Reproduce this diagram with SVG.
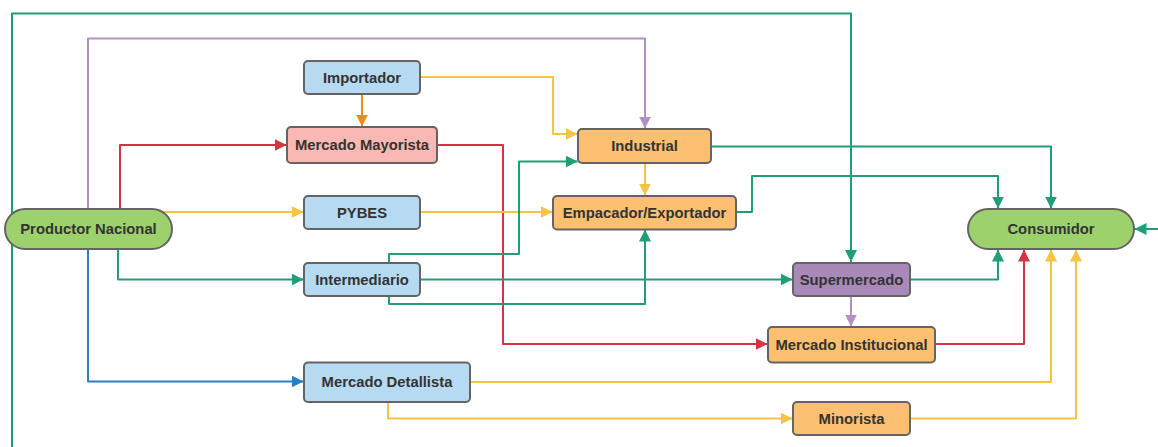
<svg xmlns="http://www.w3.org/2000/svg" width="1158" height="447" viewBox="0 0 1158 447">
  <defs>
    <style>
      .ln { fill: none; stroke-width: 2; stroke-linejoin: round; }
      .teal { stroke: #1f9e78; }
      .yel { stroke: #f6c443; }
      .red { stroke: #d23441; }
      .pur { stroke: #b391c4; }
      .org { stroke: #ee8a1f; }
      .blu { stroke: #2a7fc0; }
      .box { stroke: #646464; stroke-width: 2; }
      .blue-f { fill: #b7daf3; }
      .pink-f { fill: #f9b8b1; }
      .orng-f { fill: #fdbf70; }
      .purp-f { fill: #a889b8; }
      .grn-f { fill: #9dd16c; }
      .lbl { font-family: "Liberation Sans", Arial, sans-serif; font-weight: bold; font-size: 14.8px; fill: #333333; text-anchor: middle; dominant-baseline: central; }
    </style>
    <marker id="aTeal" viewBox="0 0 10 10" refX="10" refY="5" markerWidth="12" markerHeight="12" markerUnits="userSpaceOnUse" orient="auto"><path d="M0,0 L10,5 L0,10 z" fill="#1f9e78"/></marker>
    <marker id="aYel" viewBox="0 0 10 10" refX="10" refY="5" markerWidth="12" markerHeight="12" markerUnits="userSpaceOnUse" orient="auto"><path d="M0,0 L10,5 L0,10 z" fill="#f6c443"/></marker>
    <marker id="aRed" viewBox="0 0 10 10" refX="10" refY="5" markerWidth="12" markerHeight="12" markerUnits="userSpaceOnUse" orient="auto"><path d="M0,0 L10,5 L0,10 z" fill="#d23441"/></marker>
    <marker id="aPur" viewBox="0 0 10 10" refX="10" refY="5" markerWidth="12" markerHeight="12" markerUnits="userSpaceOnUse" orient="auto"><path d="M0,0 L10,5 L0,10 z" fill="#b391c4"/></marker>
    <marker id="aOrg" viewBox="0 0 10 10" refX="10" refY="5" markerWidth="12" markerHeight="12" markerUnits="userSpaceOnUse" orient="auto"><path d="M0,0 L10,5 L0,10 z" fill="#ee8a1f"/></marker>
    <marker id="aBlu" viewBox="0 0 10 10" refX="10" refY="5" markerWidth="12" markerHeight="12" markerUnits="userSpaceOnUse" orient="auto"><path d="M0,0 L10,5 L0,10 z" fill="#2a7fc0"/></marker>
  </defs>

  <rect width="1158" height="447" fill="#ffffff"/>

  <g id="connectors">
    <path class="ln teal" d="M12,447 V13.5 H851 V262" marker-end="url(#aTeal)"/>
    <path class="ln pur" d="M88,209 V38.5 H645 V128.5" marker-end="url(#aPur)"/>
    <path class="ln red" d="M120,210 V145 H286.5" marker-end="url(#aRed)"/>
    <path class="ln yel" d="M140,212 H303.5" marker-end="url(#aYel)"/>
    <path class="ln teal" d="M118,248 V279.5 H303.5" marker-end="url(#aTeal)"/>
    <path class="ln blu" d="M88,248 V381.5 H303.5" marker-end="url(#aBlu)"/>
    <path class="ln org" d="M362,94 V126.5" marker-end="url(#aOrg)"/>
    <path class="ln yel" d="M420,77 H553 V134 H577.5" marker-end="url(#aYel)"/>
    <path class="ln red" d="M437,145 H503 V344 H767.5" marker-end="url(#aRed)"/>
    <path class="ln yel" d="M420,212 H552.5" marker-end="url(#aYel)"/>
    <path class="ln teal" d="M389,263 V254 H519 V161.5 H577.5" marker-end="url(#aTeal)"/>
    <path class="ln teal" d="M420,279.5 H792.5" marker-end="url(#aTeal)"/>
    <path class="ln teal" d="M389,296 V304 H645 V229.5" marker-end="url(#aTeal)"/>
    <path class="ln yel" d="M645,163 V195.5" marker-end="url(#aYel)"/>
    <path class="ln teal" d="M711,146.5 H1051 V208.5" marker-end="url(#aTeal)"/>
    <path class="ln teal" d="M736,212 H752 V176 H998 V208.5" marker-end="url(#aTeal)"/>
    <path class="ln teal" d="M910,279.5 H998 V249.5" marker-end="url(#aTeal)"/>
    <path class="ln pur" d="M851,296 V326.5" marker-end="url(#aPur)"/>
    <path class="ln red" d="M935,344 H1024 V249.5" marker-end="url(#aRed)"/>
    <path class="ln yel" d="M470,382 H1051 V249.5" marker-end="url(#aYel)"/>
    <path class="ln yel" d="M388,402 V418.5 H792.5" marker-end="url(#aYel)"/>
    <path class="ln yel" d="M910,418.5 H1076 V249.5" marker-end="url(#aYel)"/>
    <path class="ln teal" d="M1158,229 H1134.5" marker-end="url(#aTeal)"/>
  </g>

  <g id="productor-nacional">
    <rect class="box grn-f" x="5" y="209" width="167" height="40" rx="20"/>
    <text class="lbl" x="88.5" y="229">Productor Nacional</text>
  </g>
  <g id="importador">
    <rect class="box blue-f" x="304" y="61" width="116" height="33" rx="4"/>
    <text class="lbl" x="362" y="77.5">Importador</text>
  </g>
  <g id="mercado-mayorista">
    <rect class="box pink-f" x="287" y="127" width="150" height="36" rx="4"/>
    <text class="lbl" x="362" y="145">Mercado Mayorista</text>
  </g>
  <g id="pybes">
    <rect class="box blue-f" x="304" y="196" width="116" height="33" rx="4"/>
    <text class="lbl" x="362" y="212.5">PYBES</text>
  </g>
  <g id="intermediario">
    <rect class="box blue-f" x="304" y="263" width="116" height="33" rx="4"/>
    <text class="lbl" x="362" y="279.5">Intermediario</text>
  </g>
  <g id="mercado-detallista">
    <rect class="box blue-f" x="304" y="362.5" width="166" height="39.5" rx="4"/>
    <text class="lbl" x="387" y="382">Mercado Detallista</text>
  </g>
  <g id="industrial">
    <rect class="box orng-f" x="578" y="129" width="133" height="34" rx="4"/>
    <text class="lbl" x="644.5" y="146">Industrial</text>
  </g>
  <g id="empacador-exportador">
    <rect class="box orng-f" x="553" y="196" width="183" height="33.5" rx="4"/>
    <text class="lbl" x="644.5" y="212.5">Empacador/Exportador</text>
  </g>
  <g id="supermercado">
    <rect class="box purp-f" x="793" y="263" width="117" height="33" rx="4"/>
    <text class="lbl" x="851.5" y="279.5">Supermercado</text>
  </g>
  <g id="mercado-institucional">
    <rect class="box orng-f" x="768" y="327" width="167" height="35.5" rx="4"/>
    <text class="lbl" x="851.5" y="344.5">Mercado Institucional</text>
  </g>
  <g id="minorista">
    <rect class="box orng-f" x="793" y="402" width="117" height="33" rx="4"/>
    <text class="lbl" x="851.5" y="418.5">Minorista</text>
  </g>
  <g id="consumidor">
    <rect class="box grn-f" x="968" y="209" width="166" height="40" rx="20"/>
    <text class="lbl" x="1051" y="229">Consumidor</text>
  </g>
</svg>
